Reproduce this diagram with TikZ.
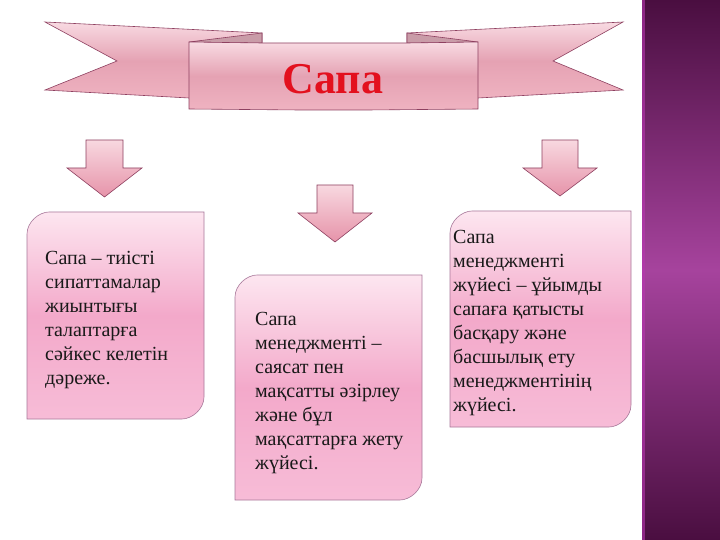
\documentclass[tikz,border=0pt]{standalone}
\usepackage{fontspec}
\setmainfont{Liberation Serif}
\begin{document}
\begin{tikzpicture}[x=1pt, y=-1pt,
  ribbon/.style={draw=ribline, line width=0.6pt, top color=ribtop, bottom color=ribbot, middle color=ribmid},
  fold/.style={draw=ribline, line width=0.6pt, fill=ribfold},
  downarrow/.style={draw=ribline, line width=0.6pt, top color=arrtop, bottom color=arrbot},
  card/.style={draw=cardline, line width=0.6pt, top color=cardtop, bottom color=cardbot, middle color=cardmid},
  cardtext/.style={font=\fontsize{20}{24}\selectfont, align=left, inner sep=0pt, text=black!90, anchor=north west}]
\useasboundingbox (0,0) rectangle (720,540);
\fill[white] (0,0) rectangle (720,540);
\definecolor{stripdark}{HTML}{4A0E40}
\definecolor{stripmid}{HTML}{A6439D}
\shade[top color=stripdark, bottom color=stripdark, middle color=stripmid] (642,0) rectangle (720,540);
\fill[stripmid!80!magenta, opacity=0.6] (642,0) rectangle (645,540);
\definecolor{ribtop}{HTML}{F8DAE2}
\definecolor{ribmid}{HTML}{E5A2B3}
\definecolor{ribbot}{HTML}{EFB3C1}
\definecolor{ribline}{HTML}{8E4060}
\definecolor{ribfold}{HTML}{C99CA8}
\shade[ribbon] (45,22) -- (262,33) -- (262,100) -- (189,98) -- (45,90) -- (117,61) -- cycle;
\shade[ribbon] (623,22) -- (407,33) -- (407,100) -- (478,98) -- (623,90) -- (553,61) -- cycle;
\fill[fold] (189,42) -- (262,33) -- (262,43) -- cycle;
\fill[fold] (478,42) -- (407,33) -- (407,43) -- cycle;
\shade[ribbon] (189,42) -- (262,43) -- (407,43) -- (478,42) -- (478,109) -- (367,110) -- (300,110) -- (189,109) -- cycle;
\definecolor{titlered}{HTML}{E3101E}
\node[text=titlered, font=\fontsize{44}{50}\selectfont\bfseries] (sapa) at (333,79) {Сапа};
\definecolor{arrtop}{HTML}{F8D8E0}
\definecolor{arrbot}{HTML}{E693A9}
\shade[downarrow] (86,140) -- (123,140) -- (123,168) -- (142,168) -- (104.5,197) -- (67,168) -- (86,168) -- cycle;
\shade[downarrow] (317,185) -- (353,185) -- (353,213) -- (372,213) -- (335,242) -- (298,213) -- (317,213) -- cycle;
\shade[downarrow] (542,140) -- (578,140) -- (578,168) -- (597,168) -- (560,196) -- (523,168) -- (542,168) -- cycle;
\definecolor{cardtop}{HTML}{FDE6F0}
\definecolor{cardmid}{HTML}{F3A9CA}
\definecolor{cardbot}{HTML}{F7BCD7}
\definecolor{cardline}{HTML}{A8789A}
\shade[card] (27,419) -- (27,234) .. controls (27,222) and (39,212) .. (49,212) -- (204,212) -- (204,397) .. controls (204,409) and (192,419) .. (182,419) -- cycle;
\shade[card] (235,500) -- (235,297) .. controls (235,285) and (247,275) .. (257,275) -- (422,275) -- (422,478) .. controls (422,490) and (410,500) .. (400,500) -- cycle;
\shade[card] (450,427) -- (450,233) .. controls (450,221) and (462,211) .. (472,211) -- (631,211) -- (631,405) .. controls (631,417) and (619,427) .. (609,427) -- cycle;
\node[cardtext] (lefttext) at (45,251) {Сапа – тиісті\\сипаттамалар\\жиынтығы\\талаптарға\\сәйкес келетін\\дәреже.};
\node[cardtext] (midtext) at (255,312) {Сапа\\менеджменті –\\саясат пен\\мақсатты әзірлеу\\және бұл\\мақсаттарға жету\\жүйесі.};
\node[cardtext] (righttext) at (453,230) {Сапа\\менеджменті\\жүйесі – ұйымды\\сапаға қатысты\\басқару және\\басшылық ету\\менеджментінің\\жүйесі.};
\end{tikzpicture}
\end{document}
